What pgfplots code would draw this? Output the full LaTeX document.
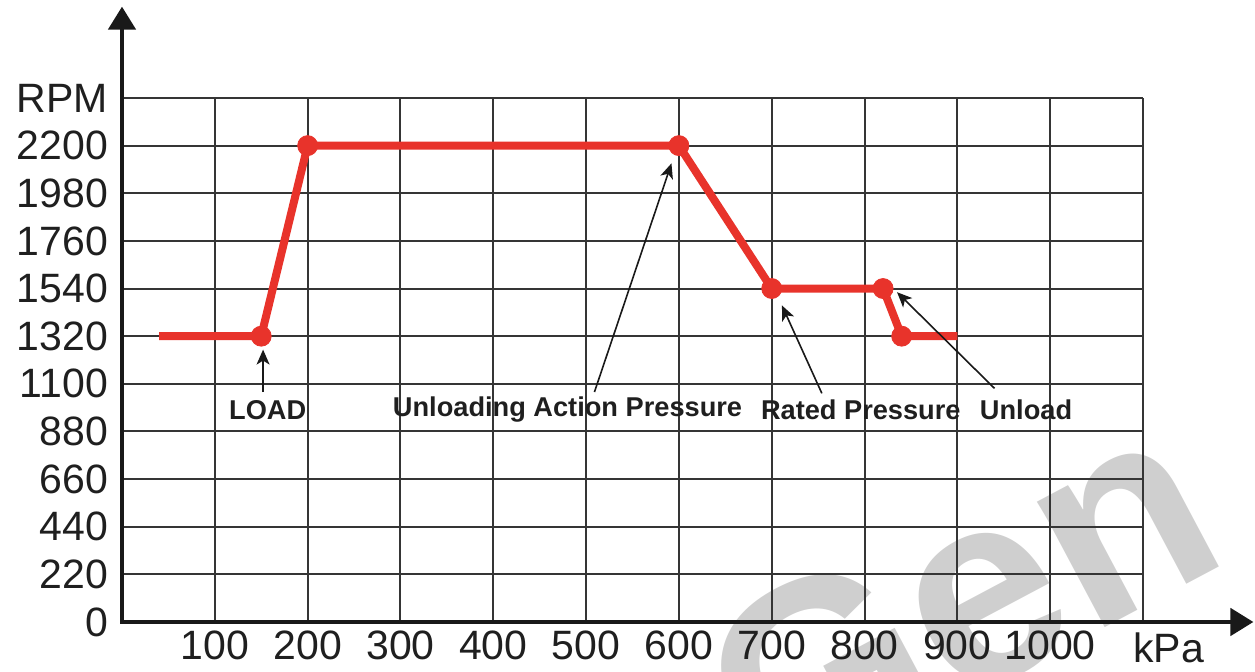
\documentclass[border=0pt]{standalone}
\usepackage{fontspec}
\setmainfont{Liberation Sans}
\usepackage{pgfplots}
\pgfplotsset{compat=1.18}
\usetikzlibrary{arrows.meta}
\definecolor{curve}{HTML}{E8332B}
\definecolor{gridc}{HTML}{353535}
\definecolor{wm}{HTML}{CFCFCF}
\begin{document}
\begin{tikzpicture}
\useasboundingbox (-61pt,-25pt) rectangle (566.5pt,311pt);
% watermark (behind everything)
\node[text=wm, rotate=28, font=\bfseries\fontsize{135}{135}\selectfont, anchor=base] at (440pt,-30pt) {Gen};
\begin{axis}[
  at={(0pt,0pt)}, anchor=south west,
  scale only axis, width=510.5pt, height=262pt,
  xmin=0, xmax=1100, ymin=0, ymax=2420,
  xtick={100,200,300,400,500,600,700,800,900,1000,1100},
  xticklabels={100,200,300,400,500,600,700,800,900,1000,{}},
  ytick={0,220,440,660,880,1100,1320,1540,1760,1980,2200,2420},
  yticklabels={0,220,440,660,880,1100,1320,1540,1760,1980,2200,RPM},
  grid=major,
  major grid style={gridc, line width=1pt},
  axis line style={draw=none},
  tick style={draw=none},
  ticklabel style={font=\fontsize{20.5}{20.5}\selectfont, text=black!88},
  yticklabel style={xshift=-3.5pt},
  xticklabel style={yshift=-1pt},
  clip=false,
]
\draw[black!90, line width=2.3pt, {Triangle[length=11.5pt,width=13.5pt]}-{Triangle[length=11.5pt,width=13.5pt]}]
  (axis cs:0,2842) -- (axis cs:0,0) -- (axis cs:1219,0);
\node[anchor=base west, inner sep=0pt, font=\fontsize{20.5}{20.5}\selectfont, text=black!88] at ([yshift=-20.5pt]axis cs:1089,0) {kPa};
\addplot[curve, line width=4pt, line join=round] coordinates {
  (40,1320) (150,1320) (200,2200) (600,2200) (700,1540) (820,1540) (840,1320) (900,1320)
};
\addplot[only marks, mark=*, mark size=5pt, mark options={fill=curve, draw=curve}] coordinates {
  (150,1320) (200,2200) (600,2200) (700,1540) (820,1540) (840,1320)
};
% annotations
\tikzset{ann/.style={font=\bfseries\fontsize{13.6}{13.6}\selectfont, text=black!88},
         arr/.style={black!90, line width=0.8pt, -{Stealth[length=7.5pt,width=6.5pt,inset=2pt]}}}
\draw[arr] (axis cs:152,1062) -- (axis cs:152,1258);
\node[ann] at (axis cs:157,979) {LOAD};
\draw[arr] (axis cs:509,1062) -- (axis cs:592,2118);
\node[ann] at (axis cs:480,979) {Unloading Action Pressure};
\draw[arr] (axis cs:754,1056) -- (axis cs:711,1462);
\node[ann] at (axis cs:796,979) {Rated Pressure};
\draw[arr] (axis cs:940,1079) -- (axis cs:835,1523);
\node[ann] at (axis cs:974,979) {Unload};
\end{axis}
\end{tikzpicture}
\end{document}
